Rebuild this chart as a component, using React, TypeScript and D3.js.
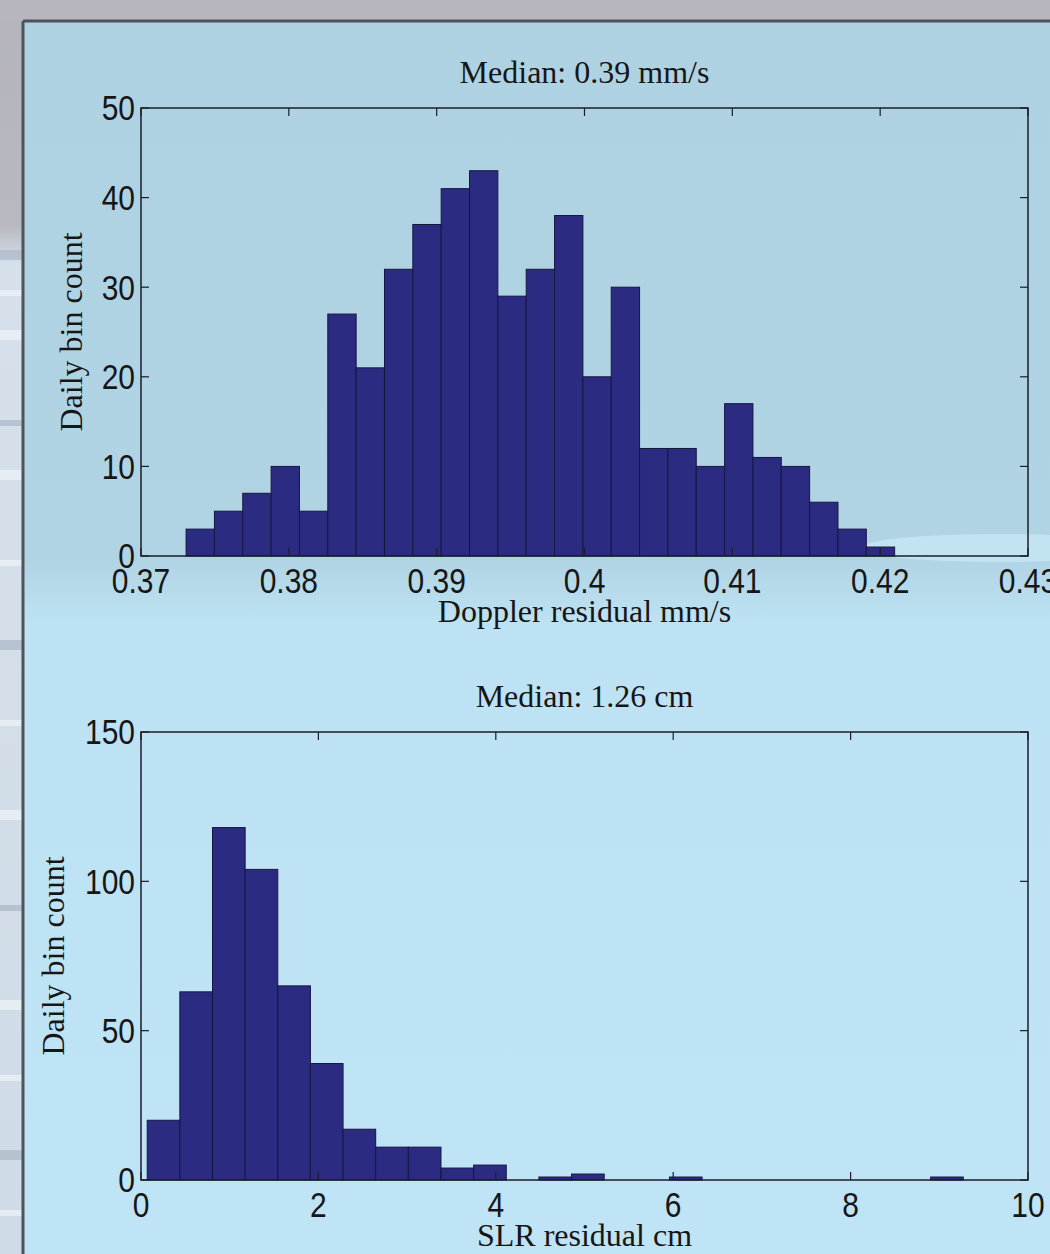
import React from 'react';
import * as d3 from 'd3';

// Doppler residual histogram (25 bins)
const dopplerCounts = [3, 5, 7, 10, 5, 27, 21, 32, 37, 41, 43, 29, 32, 38, 20, 30, 12, 12, 10, 17, 11, 10, 6, 3, 1];
const dopplerBinStart = 0.37305;
const dopplerBinWidth = 0.0019172;
const dopplerXTicks = [0.37, 0.38, 0.39, 0.4, 0.41, 0.42, 0.43];
const dopplerYTicks = [0, 10, 20, 30, 40, 50];

// SLR residual histogram (25 bins)
const slrCounts = [20, 63, 118, 104, 65, 39, 17, 11, 11, 4, 5, 0, 1, 2, 0, 0, 1, 0, 0, 0, 0, 0, 0, 0, 1];
const slrBinStart = 0.07;
const slrBinWidth = 0.368;
const slrXTicks = [0, 2, 4, 6, 8, 10];
const slrYTicks = [0, 50, 100, 150];

const W = 1050;
const H = 1254;
const plotLeft = 141;
const plotRight = 1028;
const plotHeight = 448;

const sans = '"Liberation Sans", Arial, Helvetica, sans-serif';
const serif = '"Liberation Serif", "Times New Roman", serif';
const barFill = '#2c2b82';
const barStroke = '#171640';
const axisColor = '#1b1d2a';
const textColor = '#161616';

type PanelProps = {
  top: number;
  counts: number[];
  binStart: number;
  binWidth: number;
  xTicks: number[];
  yTicks: number[];
  title: string;
  xLabel: string;
  yLabelX: number;
};

const Panel = ({ top, counts, binStart, binWidth, xTicks, yTicks, title, xLabel, yLabelX }: PanelProps) => {
  const bottom = top + plotHeight;
  const x = d3.scaleLinear()
    .domain([xTicks[0], xTicks[xTicks.length - 1]])
    .range([plotLeft, plotRight]);
  const y = d3.scaleLinear()
    .domain([yTicks[0], yTicks[yTicks.length - 1]])
    .range([bottom, top]);
  const cx = (plotLeft + plotRight) / 2;
  const tickLen = 8;
  // the original figure is a little stretched vertically
  const stretch = 'scale(1,1.14)';

  return (
    <g>
      <text x={cx} y={top - 25} textAnchor="middle" fontFamily={serif} fontSize={32} fill={textColor}>{title}</text>

      {counts.map((c, i) => {
        const x0 = x(binStart + i * binWidth);
        const x1 = x(binStart + (i + 1) * binWidth);
        if (c <= 0) return null;
        return (
          <rect key={i} x={x0} y={y(c)} width={x1 - x0} height={y(0) - y(c)}
            fill={barFill} stroke={barStroke} strokeWidth={1} />
        );
      })}

      <rect x={plotLeft} y={top} width={plotRight - plotLeft} height={plotHeight}
        fill="none" stroke={axisColor} strokeWidth={1.5} />

      {xTicks.map((t, i) => (
        <g key={'xt' + i}>
          <line x1={x(t)} x2={x(t)} y1={bottom} y2={bottom - tickLen} stroke={axisColor} strokeWidth={1.2} />
          <line x1={x(t)} x2={x(t)} y1={top} y2={top + tickLen} stroke={axisColor} strokeWidth={1.2} />
          <g transform={`translate(${x(t)},${bottom + 37}) ${stretch}`}>
            <text textAnchor="middle" fontFamily={sans} fontSize={30} fill={textColor}>{String(t)}</text>
          </g>
        </g>
      ))}

      {yTicks.map((t, i) => (
        <g key={'yt' + i}>
          <line x1={plotLeft} x2={plotLeft + tickLen} y1={y(t)} y2={y(t)} stroke={axisColor} strokeWidth={1.2} />
          <line x1={plotRight} x2={plotRight - tickLen} y1={y(t)} y2={y(t)} stroke={axisColor} strokeWidth={1.2} />
          <g transform={`translate(${plotLeft - 6},${y(t)}) ${stretch}`}>
            <text dy="0.36em" textAnchor="end" fontFamily={sans} fontSize={30} fill={textColor}>{String(t)}</text>
          </g>
        </g>
      ))}

      <text x={cx} y={bottom + 66} textAnchor="middle" fontFamily={serif} fontSize={32} fill={textColor}>{xLabel}</text>
      <text transform={`translate(${yLabelX},${(top + bottom) / 2}) rotate(-90)`} textAnchor="middle"
        fontFamily={serif} fontSize={32} fill={textColor}>Daily bin count</text>
    </g>
  );
};

const App = () => {
  // soft streaks on the left strip, like the photo behind the figure
  const streaks = [250, 290, 330, 420, 470, 560, 640, 720, 810, 905, 1000, 1075, 1150, 1210];

  return (
    <svg width={W} height={H} style={{ position: 'absolute', left: 0, top: 0, display: 'block' }}>
      <defs>
        <linearGradient id="panelBg" x1="0" y1="0" x2="0" y2="1">
          <stop offset="0" stopColor="#aed2e2" />
          <stop offset="0.43" stopColor="#b0d4e4" />
          <stop offset="0.48" stopColor="#bde2f3" />
          <stop offset="1" stopColor="#bfe4f6" />
        </linearGradient>
        <linearGradient id="stripBg" x1="0" y1="0" x2="0" y2="1">
          <stop offset="0" stopColor="#b5b4bc" />
          <stop offset="0.18" stopColor="#b8b8c1" />
          <stop offset="0.21" stopColor="#d5e0ea" />
          <stop offset="1" stopColor="#cfdbe6" />
        </linearGradient>
      </defs>

      <rect x={0} y={0} width={W} height={H} fill="url(#stripBg)" />
      <rect x={0} y={0} width={W} height={21} fill="#b7b6be" />
      {streaks.map((s, i) => (
        <rect key={i} x={0} y={s} width={22} height={i % 2 ? 6 : 10} fill={i % 3 ? '#eef4f8' : '#a9b8c8'} opacity={0.7} />
      ))}

      <rect x={23} y={21} width={W} height={H} fill="url(#panelBg)" />
      <ellipse cx={1000} cy={548} rx={140} ry={14} fill="#c6e6f5" opacity={0.8} />
      <line x1={23} y1={21} x2={W} y2={21} stroke="#4e545c" strokeWidth={3} />
      <line x1={23} y1={21} x2={23} y2={H} stroke="#4e545c" strokeWidth={3} />

      <Panel top={108} counts={dopplerCounts} binStart={dopplerBinStart} binWidth={dopplerBinWidth}
        xTicks={dopplerXTicks} yTicks={dopplerYTicks} title="Median: 0.39 mm/s"
        xLabel="Doppler residual mm/s" yLabelX={82} />
      <Panel top={732} counts={slrCounts} binStart={slrBinStart} binWidth={slrBinWidth}
        xTicks={slrXTicks} yTicks={slrYTicks} title="Median: 1.26 cm"
        xLabel="SLR residual cm" yLabelX={64} />
    </svg>
  );
};

export default App;
